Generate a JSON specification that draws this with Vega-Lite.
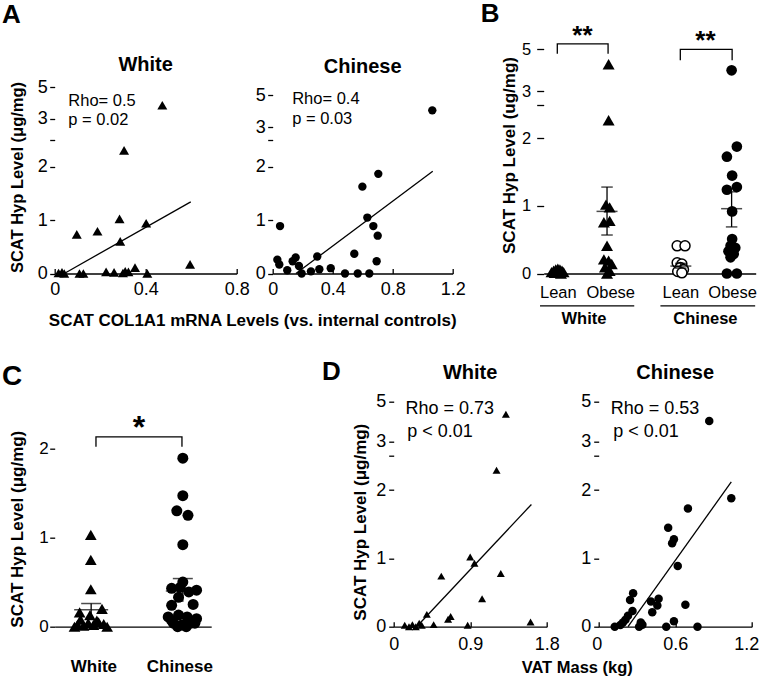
{
"$schema": "https://vega.github.io/schema/vega-lite/v6.json",
"background": "white",
"padding": {"left": 1.7, "top": 0, "right": 0, "bottom": 0},
"config": {
 "font": "Liberation Sans",
 "view": {"stroke": null},
 "axis": {"grid": false, "domainColor": "#000", "domainWidth": 1.3, "tickColor": "#000", "tickWidth": 1.3, "labelColor": "#000", "titleColor": "#000", "labelFont": "Liberation Sans", "titleFont": "Liberation Sans", "labelFontSize": 18, "titleFontSize": 17, "titleFontWeight": "bold", "labelFlush": false, "labelOverlap": false, "tickSize": 5, "labelPadding": 3},
 "title": {"font": "Liberation Sans", "color": "#000", "fontWeight": "bold"},
 "text": {"font": "Liberation Sans", "color": "#000"},
 "line": {"color": "#000", "strokeWidth": 1.3},
 "rule": {"color": "#000", "strokeWidth": 1.3},
 "tick": {"color": "#000", "thickness": 1.5},
 "point": {"opacity": 1}
},
"datasets": {
 "brk": [{"y": 0, "y2": 2.5}, {"y": 3, "y2": 5}],
 "aw": [{"x":0.017,"y":0.01},{"x":0.032,"y":0.02},{"x":0.042,"y":0.0},{"x":0.097,"y":0.73},{"x":0.109,"y":0.0},{"x":0.126,"y":0.0},{"x":0.188,"y":0.79},{"x":0.226,"y":0.03},{"x":0.261,"y":0.02},{"x":0.285,"y":1.02},{"x":0.288,"y":0.6},{"x":0.3,"y":0.01},{"x":0.305,"y":2.3},{"x":0.31,"y":0.04},{"x":0.324,"y":0.03},{"x":0.353,"y":0.11},{"x":0.402,"y":0.94},{"x":0.407,"y":0.0},{"x":0.473,"y":3.85},{"x":0.595,"y":0.17}],
 "awfit": [{"x":0.046,"y":0.01},{"x":0.598,"y":1.34}],
 "awtxt": [{"x":0.06,"y":4.12,"label":"Rho= 0.5"},{"x":0.06,"y":2.98,"label":"p = 0.02"}],
 "ac": [{"x":0.031,"y":0.26},{"x":0.044,"y":0.17},{"x":0.049,"y":0.89},{"x":0.097,"y":0.06},{"x":0.133,"y":0.23},{"x":0.153,"y":0.3},{"x":0.175,"y":0.14},{"x":0.193,"y":0.0},{"x":0.255,"y":0.04},{"x":0.297,"y":0.32},{"x":0.311,"y":0.08},{"x":0.387,"y":0.1},{"x":0.482,"y":0.0},{"x":0.544,"y":0.37},{"x":0.567,"y":0.0},{"x":0.598,"y":1.63},{"x":0.631,"y":1.05},{"x":0.644,"y":0.0},{"x":0.671,"y":0.89},{"x":0.693,"y":0.23},{"x":0.7,"y":0.71},{"x":0.704,"y":1.87},{"x":1.064,"y":4.05}],
 "acfit": [{"x":0.155,"y":0.0},{"x":1.067,"y":1.92}],
 "actxt": [{"x":0.13,"y":4.75,"label":"Rho= 0.4"},{"x":0.13,"y":3.49,"label":"p = 0.03"}],
 "bw": [{"x":0.88,"y":0.02},{"x":0.92,"y":0.04},{"x":0.96,"y":0.06},{"x":1.0,"y":0.07},{"x":1.04,"y":0.06},{"x":1.08,"y":0.04},{"x":1.11,"y":0.02},{"x":0.94,"y":0.01},{"x":1.02,"y":0.01},{"x":1.06,"y":0.0},{"x":1.97,"y":4.29},{"x":1.97,"y":2.27},{"x":1.92,"y":1.02},{"x":1.99,"y":0.98},{"x":1.88,"y":0.76},{"x":1.99,"y":0.78},{"x":1.94,"y":0.41},{"x":1.88,"y":0.21},{"x":1.97,"y":0.19},{"x":2.03,"y":0.14},{"x":1.9,"y":0.09},{"x":1.99,"y":0.04},{"x":1.94,"y":0.0}],
 "bcl": [{"x":3.28,"y":0.41},{"x":3.43,"y":0.41},{"x":3.28,"y":0.16},{"x":3.37,"y":0.14},{"x":3.34,"y":0.09},{"x":3.4,"y":0.06},{"x":3.29,"y":0.03},{"x":3.37,"y":0.01}],
 "bco": [{"x":4.32,"y":4.0},{"x":4.42,"y":1.88},{"x":4.23,"y":1.73},{"x":4.33,"y":1.45},{"x":4.42,"y":1.28},{"x":4.23,"y":1.24},{"x":4.33,"y":0.92},{"x":4.33,"y":0.51},{"x":4.3,"y":0.41},{"x":4.39,"y":0.38},{"x":4.26,"y":0.33},{"x":4.36,"y":0.29},{"x":4.3,"y":0.24},{"x":4.23,"y":0.0},{"x":4.42,"y":0.0}],
 "bm": [{"x":1.94,"m":0.92,"lo":0.57,"hi":1.28},{"x":3.35,"m":0.11,"lo":0.08,"hi":0.15},{"x":4.32,"m":0.96,"lo":0.69,"hi":1.21}],
 "bbr": [{"g":"W","o":1,"x":0.99,"y":4.79},{"g":"W","o":2,"x":0.99,"y":5.26},{"g":"W","o":3,"x":1.96,"y":5.26},{"g":"W","o":4,"x":1.96,"y":4.79},{"g":"C","o":1,"x":3.34,"y":4.48},{"g":"C","o":2,"x":3.34,"y":5.0},{"g":"C","o":3,"x":4.33,"y":5.0},{"g":"C","o":4,"x":4.33,"y":4.48}],
 "bstar": [{"x":1.47,"y":5.23,"label":"**"},{"x":3.82,"y":5.02,"label":"**"}],
 "bgrp": [{"x":0.66,"x2":2.46,"y":-0.478,"ly":-0.67,"lx":1.5,"label":"White"},{"x":2.96,"x2":4.77,"y":-0.478,"ly":-0.67,"lx":3.82,"label":"Chinese"}],
 "cw": [{"x":0.97,"y":1.03},{"x":0.97,"y":0.75},{"x":0.97,"y":0.42},{"x":0.84,"y":0.16},{"x":1.1,"y":0.2},{"x":0.96,"y":0.13},{"x":0.815,"y":0.02},{"x":0.885,"y":0.01},{"x":0.94,"y":0.04},{"x":1.0,"y":0.02},{"x":1.06,"y":0.05},{"x":1.12,"y":0.03},{"x":0.85,"y":0.08},{"x":1.04,"y":0.07},{"x":0.78,"y":0.0},{"x":1.16,"y":0.0}],
 "cc": [{"x":2.04,"y":1.89},{"x":2.04,"y":1.47},{"x":1.97,"y":1.3},{"x":2.1,"y":1.25},{"x":2.04,"y":0.92},{"x":2.04,"y":0.5},{"x":1.91,"y":0.43},{"x":2.2,"y":0.41},{"x":2.01,"y":0.44},{"x":2.11,"y":0.39},{"x":1.91,"y":0.24},{"x":2.16,"y":0.25},{"x":1.99,"y":0.33},{"x":1.87,"y":0.11},{"x":1.99,"y":0.13},{"x":2.09,"y":0.11},{"x":2.2,"y":0.09},{"x":1.93,"y":0.04},{"x":2.03,"y":0.02},{"x":2.13,"y":0.04},{"x":1.91,"y":0.07},{"x":2.18,"y":0.04},{"x":1.98,"y":0.0},{"x":2.08,"y":0.0}],
 "cm": [{"x":0.974,"m":0.19,"lo":0.12,"hi":0.26},{"x":2.04,"m":0.4,"lo":0.28,"hi":0.54}],
 "cbr": [{"o":1,"x":1.03,"y":2.02},{"o":2,"x":1.03,"y":2.13},{"o":3,"x":2.03,"y":2.13},{"o":4,"x":2.03,"y":2.02}],
 "cstar": [{"x":1.53,"y":2.12,"label":"*"}],
 "dw": [{"x":0.13,"y":0.02},{"x":0.18,"y":0.0},{"x":0.22,"y":0.03},{"x":0.26,"y":0.0},{"x":0.3,"y":0.05},{"x":0.33,"y":0.02},{"x":0.39,"y":0.18},{"x":0.47,"y":0.03},{"x":0.56,"y":0.74},{"x":0.64,"y":0.11},{"x":0.67,"y":0.15},{"x":0.87,"y":0.02},{"x":0.9,"y":1.02},{"x":0.95,"y":0.93},{"x":1.04,"y":0.41},{"x":1.21,"y":2.29},{"x":1.26,"y":0.78},{"x":1.32,"y":4.37},{"x":1.61,"y":0.07}],
 "dwfit": [{"x":0.3,"y":0.04},{"x":1.62,"y":1.79}],
 "dwtxt": [{"x":0.14,"y":4.64,"label":"Rho = 0.73"},{"x":0.16,"y":3.5,"label":"p < 0.01"}],
 "dc": [{"x":0.126,"y":0.0},{"x":0.17,"y":0.025},{"x":0.19,"y":0.06},{"x":0.21,"y":0.1},{"x":0.23,"y":0.16},{"x":0.265,"y":0.23},{"x":0.246,"y":0.39},{"x":0.27,"y":0.49},{"x":0.317,"y":0.0},{"x":0.33,"y":0.06},{"x":0.343,"y":0.03},{"x":0.41,"y":0.37},{"x":0.42,"y":0.21},{"x":0.46,"y":0.31},{"x":0.47,"y":0.41},{"x":0.53,"y":0.0},{"x":0.545,"y":1.45},{"x":0.576,"y":1.22},{"x":0.59,"y":1.28},{"x":0.59,"y":0.08},{"x":0.62,"y":0.89},{"x":0.68,"y":0.32},{"x":0.7,"y":1.73},{"x":0.775,"y":0.0},{"x":0.867,"y":4.03},{"x":1.04,"y":1.88}],
 "dcfit": [{"x":0.23,"y":0.0},{"x":1.04,"y":2.12}],
 "dctxt": [{"x":0.094,"y":4.64,"label":"Rho = 0.53"},{"x":0.115,"y":3.5,"label":"p < 0.01"}]
},
"vconcat": [
 {"title": {"text": "A", "anchor": "start", "frame": "group", "fontSize": 26, "fontWeight": "bold", "offset": 0, "dx": -52.8, "dy": 27},
  "bounds": "flush", "spacing": 36,
  "hconcat": [
    {"width": 182, "height": 247.5,
     "title": {"text": "White", "frame": "group", "anchor": "middle", "fontSize": 20, "fontWeight": "bold", "offset": 0, "dy": 49},
     "encoding": {
      "x": {"field": "x", "type": "quantitative", "scale": {"domain": [0, 0.8], "nice": false, "zero": false},
            "axis": {"values": [0, 0.4, 0.8], "format": ".1~f", "tickSize": -5, "labelPadding": 11.7, "labelFontSize": 18, "title": "SCAT COL1A1 mRNA Levels (vs. internal controls)", "titleFontSize": 17, "titleX": 197.5, "titleY": 38.5, "titleAlign": "center", "titleBaseline": "top"}},
      "y": {"field": "y", "type": "quantitative", "scale": {"domain": [0, 2.5, 3, 5], "range": [247.5, 113.75, 92.7, 61], "nice": false, "zero": false},
            "axis": {"values": [0, 1, 2, 2.5, 3, 5], "labelExpr": "datum.value == 2.5 ? '' : datum.label", "domain": false, "tickSize": 5, "labelPadding": 2.5, "labelFontSize": 18, "title": "SCAT Hyp Level  (μg/mg)", "titleFontSize": 16.5, "titleX": -37.5, "titleY": 151, "titleBaseline": "middle"}}
     },
     "layer": [
      {"data": {"name": "brk"}, "mark": {"type": "rule"}, "encoding": {"x": {"datum": 0}, "y2": {"field": "y2"}}},
      {"data": {"name": "awfit"}, "mark": {"type": "line"}},
      {"data": {"name": "aw"}, "mark": {"type": "point", "shape": "triangle-up", "filled": true, "color": "#000", "opacity": 1, "size": 100}},
      {"data": {"name": "awtxt"}, "mark": {"type": "text", "align": "left", "baseline": "middle", "fontSize": 16.5}, "encoding": {"text": {"field": "label", "type": "nominal"}}}
     ]},
    {"width": 234.5, "height": 247.5,
     "title": {"text": "Chinese", "frame": "group", "anchor": "middle", "fontSize": 20, "fontWeight": "bold", "offset": 0, "dy": 51, "dx": -27.25},
     "encoding": {
      "x": {"field": "x", "type": "quantitative", "scale": {"domain": [0, 1.2], "range": [0, 180], "nice": false, "zero": false},
            "axis": {"values": [0, 0.4, 0.8, 1.2], "format": ".1~f", "tickSize": -5, "labelPadding": 11.7, "labelFontSize": 18, "title": null}},
      "y": {"field": "y", "type": "quantitative", "scale": {"domain": [0, 2.5, 3, 5], "range": [247.5, 114.3, 101, 69.3], "nice": false, "zero": false},
            "axis": {"values": [0, 1, 2, 2.5, 3, 5], "labelExpr": "datum.value == 2.5 ? '' : datum.label", "domain": false, "tickSize": 5, "labelPadding": 2.5, "labelFontSize": 18, "title": null}}
     },
     "layer": [
      {"data": {"name": "brk"}, "mark": {"type": "rule"}, "encoding": {"x": {"datum": 0}, "y2": {"field": "y2"}}},
      {"data": {"name": "acfit"}, "mark": {"type": "line"}},
      {"data": {"name": "ac"}, "mark": {"type": "point", "shape": "circle", "filled": true, "color": "#000", "opacity": 1, "size": 70}},
      {"data": {"name": "actxt"}, "mark": {"type": "text", "align": "left", "baseline": "middle", "fontSize": 16.5}, "encoding": {"text": {"field": "label", "type": "nominal"}}}
     ]},
  {"width": 212, "height": 247.5,
   "title": {"text": "B", "anchor": "start", "frame": "group", "fontSize": 26, "fontWeight": "bold", "offset": 0, "dx": -63, "dy": 3.4},
   "encoding": {
    "x": {"field": "x", "type": "quantitative", "scale": {"domain": [0.73, 4.78], "nice": false, "zero": false},
          "axis": {"values": [1, 2, 3.34, 4.33], "labelExpr": "datum.value < 1.5 || (datum.value > 3 && datum.value < 4) ? 'Lean' : 'Obese'", "ticks": false, "tickSize": 0, "labelPadding": 11.4, "labelFontSize": 16.5, "title": null}},
    "y": {"field": "y", "type": "quantitative", "scale": {"domain": [0, 2.5, 3, 5, 6.1], "range": [247.5, 78.7, 65.3, 23.3, 0], "nice": false, "zero": false},
          "axis": {"values": [0, 1, 2, 2.5, 3, 5], "labelExpr": "datum.value == 2.5 ? '' : datum.label", "domain": false, "tickSize": 7, "labelPadding": 6, "labelFontSize": 16.5, "title": "SCAT Hyp Level (ug/mg)", "titleFontSize": 17, "titleX": -34.5, "titleY": 129, "titleBaseline": "middle"}}
   },
   "layer": [
    {"data": {"name": "brk"}, "mark": {"type": "rule"}, "encoding": {"x": {"datum": 0.73}, "y2": {"field": "y2"}}},
    {"data": {"name": "bw"}, "mark": {"type": "point", "shape": "triangle-up", "filled": true, "color": "#000", "opacity": 1, "size": 144}},
    {"data": {"name": "bcl"}, "mark": {"type": "point", "shape": "circle", "filled": true, "fill": "white", "stroke": "#000", "strokeWidth": 1.5, "opacity": 1, "size": 100}},
    {"data": {"name": "bco"}, "mark": {"type": "point", "shape": "circle", "filled": true, "color": "#000", "opacity": 1, "size": 114}},
    {"data": {"name": "bm"}, "mark": {"type": "rule"}, "encoding": {"y": {"field": "lo"}, "y2": {"field": "hi"}}},
    {"data": {"name": "bm"}, "mark": {"type": "tick", "orient": "horizontal", "size": 21}, "encoding": {"y": {"field": "m"}}},
    {"data": {"name": "bm"}, "mark": {"type": "tick", "orient": "horizontal", "size": 11.5}, "encoding": {"y": {"field": "lo"}}},
    {"data": {"name": "bm"}, "mark": {"type": "tick", "orient": "horizontal", "size": 11.5}, "encoding": {"y": {"field": "hi"}}},
    {"data": {"name": "bbr"}, "mark": {"type": "line"}, "encoding": {"detail": {"field": "g"}, "order": {"field": "o"}}},
    {"data": {"name": "bstar"}, "mark": {"type": "text", "align": "center", "baseline": "alphabetic", "fontSize": 26, "fontWeight": "bold"}, "encoding": {"text": {"field": "label", "type": "nominal"}}},
    {"data": {"name": "bgrp"}, "mark": {"type": "rule"}, "encoding": {"x2": {"field": "x2"}}},
    {"data": {"name": "bgrp"}, "mark": {"type": "text", "align": "center", "baseline": "middle", "fontSize": 16.5, "fontWeight": "bold"}, "encoding": {"x": {"field": "lx", "type": "quantitative"}, "y": {"field": "ly", "type": "quantitative"}, "text": {"field": "label", "type": "nominal"}}}
   ]}
 ]},
 {"title": {"text": "D", "anchor": "start", "frame": "group", "fontSize": 26, "fontWeight": "bold", "offset": 0, "dx": 267.2, "dy": 22},
  "bounds": "flush", "spacing": 52,
  "hconcat": [
  {"width": 286.5, "height": 225,
   "title": {"text": "C", "anchor": "start", "frame": "group", "fontSize": 28, "fontWeight": "bold", "offset": 11, "dx": -52.8},
   "encoding": {
    "x": {"field": "x", "type": "quantitative", "scale": {"domain": [0.55, 2.37], "range": [0, 156.5], "nice": false, "zero": false},
          "axis": {"values": [1, 2], "labelExpr": "datum.value == 1 ? 'White' : 'Chinese'", "ticks": false, "tickSize": 0, "labelPadding": 32, "labelFontSize": 17, "labelFontWeight": "bold", "title": null}},
    "y": {"field": "y", "type": "quantitative", "scale": {"domain": [0, 2.524], "nice": false, "zero": false},
          "axis": {"values": [0, 1, 2], "domain": false, "tickSize": 5, "labelPadding": 1.5, "labelFontSize": 17, "title": "SCAT Hyp Level (μg/mg)", "titleFontSize": 17, "titleX": -37.5, "titleY": 127, "titleBaseline": "middle"}}
   },
   "layer": [
    {"data": {"values": [{"y": 0, "y2": 2}]}, "mark": {"type": "rule"}, "encoding": {"x": {"datum": 0.55}, "y2": {"field": "y2"}}},
    {"data": {"name": "cw"}, "mark": {"type": "point", "shape": "triangle-up", "filled": true, "color": "#000", "opacity": 1, "size": 137}},
    {"data": {"name": "cc"}, "mark": {"type": "point", "shape": "circle", "filled": true, "color": "#000", "opacity": 1, "size": 121}},
    {"data": {"name": "cm"}, "mark": {"type": "rule"}, "encoding": {"y": {"field": "lo"}, "y2": {"field": "hi"}}},
    {"data": {"name": "cm"}, "mark": {"type": "tick", "orient": "horizontal", "size": 34}, "encoding": {"y": {"field": "m"}}},
    {"data": {"name": "cm"}, "mark": {"type": "tick", "orient": "horizontal", "size": 20}, "encoding": {"y": {"field": "hi"}}},
    {"data": {"name": "cbr"}, "mark": {"type": "line"}, "encoding": {"order": {"field": "o"}}},
    {"data": {"name": "cstar"}, "mark": {"type": "text", "align": "center", "baseline": "alphabetic", "fontSize": 32, "fontWeight": "bold"}, "encoding": {"text": {"field": "label", "type": "nominal"}}}
   ]},
    {"width": 153, "height": 225,
     "title": {"text": "White", "frame": "group", "anchor": "middle", "fontSize": 20, "fontWeight": "bold", "offset": 10},
     "encoding": {
      "x": {"field": "x", "type": "quantitative", "scale": {"domain": [0, 1.8], "nice": false, "zero": false},
            "axis": {"values": [0, 0.9, 1.8], "format": ".1~f", "tickSize": -5, "labelPadding": 13.9, "labelFontSize": 18, "title": "VAT Mass (kg)", "titleFontSize": 16.5, "titleX": 183, "titleY": 32.5, "titleAlign": "center", "titleBaseline": "top"}},
      "y": {"field": "y", "type": "quantitative", "scale": {"domain": [0, 2.5, 3, 5], "range": [225, 54.25, 40, 0], "nice": false, "zero": false},
            "axis": {"values": [0, 1, 2, 2.5, 3, 5], "labelExpr": "datum.value == 2.5 ? '' : datum.label", "domain": false, "tickSize": 5, "labelPadding": 3, "labelFontSize": 18, "title": "SCAT Hyp Level (μg/mg)", "titleFontSize": 17, "titleX": -33, "titleY": 120, "titleBaseline": "middle"}}
     },
     "layer": [
      {"data": {"name": "brk"}, "mark": {"type": "rule"}, "encoding": {"x": {"datum": 0}, "y2": {"field": "y2"}}},
      {"data": {"name": "dwfit"}, "mark": {"type": "line"}},
      {"data": {"name": "dw"}, "mark": {"type": "point", "shape": "triangle-up", "filled": true, "color": "#000", "opacity": 1, "size": 64}},
      {"data": {"name": "dwtxt"}, "mark": {"type": "text", "align": "left", "baseline": "middle", "fontSize": 18}, "encoding": {"text": {"field": "label", "type": "nominal"}}}
     ]},
    {"width": 153, "height": 225,
     "title": {"text": "Chinese", "frame": "group", "anchor": "middle", "fontSize": 20, "fontWeight": "bold", "offset": 10},
     "encoding": {
      "x": {"field": "x", "type": "quantitative", "scale": {"domain": [0, 1.2], "nice": false, "zero": false},
            "axis": {"values": [0, 0.6, 1.2], "format": ".1~f", "tickSize": -5, "labelPadding": 13.9, "labelFontSize": 18, "labelFlush": true, "labelFlushOffset": 7, "title": null}},
      "y": {"field": "y", "type": "quantitative", "scale": {"domain": [0, 2.5, 3, 5], "range": [225, 54.25, 40, 0], "nice": false, "zero": false},
            "axis": {"values": [0, 1, 2, 2.5, 3, 5], "labelExpr": "datum.value == 2.5 ? '' : datum.label", "domain": false, "tickSize": 5, "labelPadding": 3, "labelFontSize": 18, "title": null}}
     },
     "layer": [
      {"data": {"name": "brk"}, "mark": {"type": "rule"}, "encoding": {"x": {"datum": 0}, "y2": {"field": "y2"}}},
      {"data": {"name": "dcfit"}, "mark": {"type": "line"}},
      {"data": {"name": "dc"}, "mark": {"type": "point", "shape": "circle", "filled": true, "color": "#000", "opacity": 1, "size": 72}},
      {"data": {"name": "dctxt"}, "mark": {"type": "text", "align": "left", "baseline": "middle", "fontSize": 18}, "encoding": {"text": {"field": "label", "type": "nominal"}}}
     ]}
  ]}
],
"spacing": 30.7
}
